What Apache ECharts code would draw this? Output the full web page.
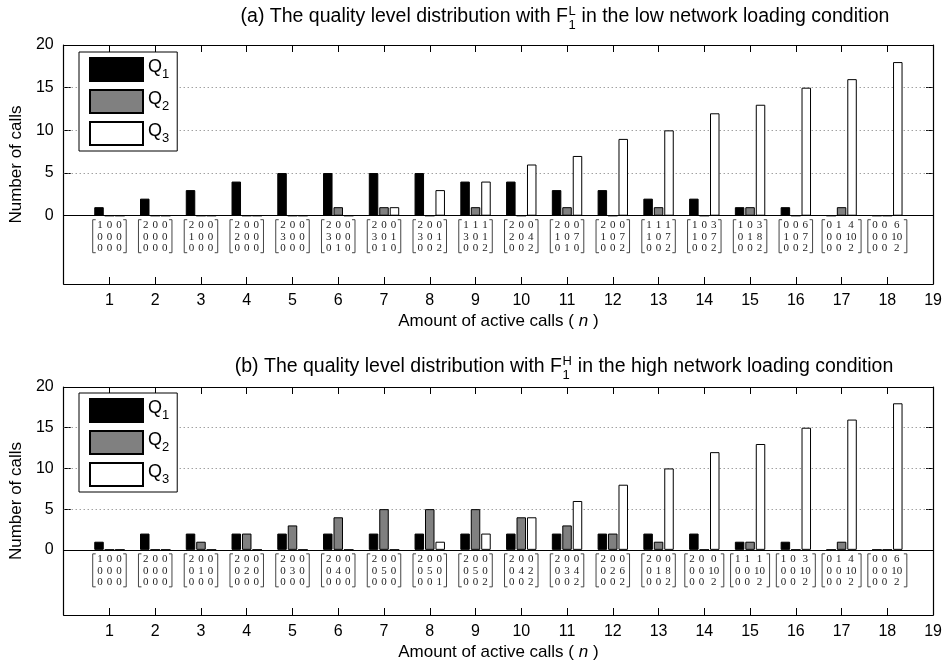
<!DOCTYPE html>
<html>
<head>
<meta charset="utf-8">
<script src="https://cdn.jsdelivr.net/npm/echarts@6/dist/echarts.min.js"></script>
<style>
  html, body { margin: 0; padding: 0; background: #fff; }
  #chart { width: 945px; height: 664px; }
</style>
</head>
<body>
<div id="chart"></div>
<script>
// amount of active calls
const nVals = [1, 2, 3, 4, 5, 6, 7, 8, 9, 10, 11, 12, 13, 14, 15, 16, 17, 18];

// (a) low network loading
const q1A = [1, 2, 3, 4, 5, 5, 5, 5, 4, 4, 3, 3, 2, 2, 1, 1, 0, 0];
const q2A = [0, 0, 0, 0, 0, 1, 1, 0, 1, 0, 1, 0, 1, 0, 1, 0, 1, 0];
const q3A = [0, 0, 0, 0, 0, 0, 1, 3, 4, 6, 7, 9, 10, 12, 13, 15, 16, 18];

// (b) high network loading
const q1B = [1, 2, 2, 2, 2, 2, 2, 2, 2, 2, 2, 2, 2, 2, 1, 1, 0, 0];
const q2B = [0, 0, 1, 2, 3, 4, 5, 5, 5, 4, 3, 2, 1, 0, 1, 0, 1, 0];
const q3B = [0, 0, 0, 0, 0, 0, 0, 1, 2, 4, 6, 8, 10, 12, 13, 15, 16, 18];

// matrices written under each group
const matA = [
  [[1,0,0],[0,0,0],[0,0,0]],
  [[2,0,0],[0,0,0],[0,0,0]],
  [[2,0,0],[1,0,0],[0,0,0]],
  [[2,0,0],[2,0,0],[0,0,0]],
  [[2,0,0],[3,0,0],[0,0,0]],
  [[2,0,0],[3,0,0],[0,1,0]],
  [[2,0,0],[3,0,1],[0,1,0]],
  [[2,0,0],[3,0,1],[0,0,2]],
  [[1,1,1],[3,0,1],[0,0,2]],
  [[2,0,0],[2,0,4],[0,0,2]],
  [[2,0,0],[1,0,7],[0,1,0]],
  [[2,0,0],[1,0,7],[0,0,2]],
  [[1,1,1],[1,0,7],[0,0,2]],
  [[1,0,3],[1,0,7],[0,0,2]],
  [[1,0,3],[0,1,8],[0,0,2]],
  [[0,0,6],[1,0,7],[0,0,2]],
  [[0,1,4],[0,0,10],[0,0,2]],
  [[0,0,6],[0,0,10],[0,0,2]]
];
const matB = [
  [[1,0,0],[0,0,0],[0,0,0]],
  [[2,0,0],[0,0,0],[0,0,0]],
  [[2,0,0],[0,1,0],[0,0,0]],
  [[2,0,0],[0,2,0],[0,0,0]],
  [[2,0,0],[0,3,0],[0,0,0]],
  [[2,0,0],[0,4,0],[0,0,0]],
  [[2,0,0],[0,5,0],[0,0,0]],
  [[2,0,0],[0,5,0],[0,0,1]],
  [[2,0,0],[0,5,0],[0,0,2]],
  [[2,0,0],[0,4,2],[0,0,2]],
  [[2,0,0],[0,3,4],[0,0,2]],
  [[2,0,0],[0,2,6],[0,0,2]],
  [[2,0,0],[0,1,8],[0,0,2]],
  [[2,0,0],[0,0,10],[0,0,2]],
  [[1,1,1],[0,0,10],[0,0,2]],
  [[1,0,3],[0,0,10],[0,0,2]],
  [[0,1,4],[0,0,10],[0,0,2]],
  [[0,0,6],[0,0,10],[0,0,2]]
];

const yTicks = [0, 5, 10, 15, 20];
const gridTicks = [5, 10, 15];
const seriesNames = ['Q1', 'Q2', 'Q3'];
const barColors = ['#000000', '#808080', '#ffffff'];

const FONT = '"Liberation Sans", Arial, sans-serif';

var chart = echarts.init(document.getElementById('chart'));

// measure text for the titles
const ctx = document.createElement('canvas').getContext('2d');
function tw(s, font) { ctx.font = font; return ctx.measureText(s).width; }

function titleGroup(pre, sup, sub, post, cx, cy) {
  const big = '19.5px ' + FONT;
  const small = '13px ' + FONT;
  const w1 = tw(pre, big);
  const ws = Math.max(tw(sup, small), tw(sub, small)) + 1;
  const w2 = tw(post, big);
  const x0 = cx - (w1 + ws + w2) / 2;
  const st = (t, f) => ({ text: t, font: f, fill: '#000', textVerticalAlign: 'middle' });
  return {
    type: 'group',
    children: [
      { type: 'text', x: x0, y: cy, style: st(pre, big) },
      { type: 'text', x: x0 + w1 + 0.5, y: cy - 6, style: st(sup, small) },
      { type: 'text', x: x0 + w1 + 0.5, y: cy + 8, style: st(sub, small) },
      { type: 'text', x: x0 + w1 + ws, y: cy, style: st(post, big) }
    ]
  };
}

// matrix under each bar group
function matrixRenderer(mats) {
  return function (params, api) {
    const m = mats[params.dataIndex];
    const p = api.coord([api.value(0), 0]);
    const cx = p[0], y0 = p[1];
    const digitW = 5.5, gap = 4;
    const widths = [0, 1, 2].map(c => Math.max.apply(null, m.map(r => String(r[c]).length)) * digitW);
    const total = widths[0] + widths[1] + widths[2] + 2 * gap;
    let x = cx - total / 2;
    const centers = [];
    widths.forEach(w => { centers.push(x + w / 2); x += w + gap; });
    const children = [];
    m.forEach((row, ri) => {
      row.forEach((v, ci) => {
        children.push({
          type: 'text',
          style: {
            text: String(v), x: centers[ci], y: y0 + 9.5 + ri * 11.5,
            textAlign: 'center', textVerticalAlign: 'middle',
            font: '11px "Liberation Serif", serif', fill: '#222'
          }
        });
      });
    });
    const top = y0 + 4, bot = y0 + 37;
    const lx = cx - total / 2 - 4.5, rx = cx + total / 2 + 4.5;
    children.push({ type: 'polyline', shape: { points: [[lx + 3, top], [lx, top], [lx, bot], [lx + 3, bot]] },
      style: { stroke: '#444', lineWidth: 1, fill: null } });
    children.push({ type: 'polyline', shape: { points: [[rx - 3, top], [rx, top], [rx, bot], [rx - 3, bot]] },
      style: { stroke: '#444', lineWidth: 1, fill: null } });
    return { type: 'group', children: children };
  };
}

const grids = [
  { left: 61, right: 11, top: 45, height: 239 },
  { left: 61, right: 11, top: 387, height: 228 }
];

const xAxes = [], yAxes = [], series = [], legends = [];
const panels = [
  { q: [q1A, q2A, q3A], mats: matA },
  { q: [q1B, q2B, q3B], mats: matB }
];

panels.forEach((pn, g) => {
  // bottom x axis with labels
  xAxes.push({
    gridIndex: g, type: 'value', min: 0, max: 19, interval: 1, position: 'bottom',
    axisLine: { onZero: false, lineStyle: { color: '#000', width: 1.2 } },
    axisTick: { inside: true, length: 7, lineStyle: { color: '#000' } },
    axisLabel: { margin: 9, color: '#000', fontSize: 16, fontFamily: FONT,
      formatter: v => (v === 0 ? '' : v) },
    splitLine: { show: false },
    name: 'Amount of active calls ( {i|n} )', nameLocation: 'middle', nameGap: 29,
    nameTextStyle: { color: '#000', fontSize: 17, fontFamily: FONT,
      rich: { i: { fontStyle: 'italic', fontSize: 17, fontFamily: FONT, color: '#000' } } }
  });
  // top x axis (box)
  xAxes.push({
    gridIndex: g, type: 'value', min: 0, max: 19, interval: 1, position: 'top',
    axisLine: { onZero: false, lineStyle: { color: '#000', width: 1.2 } },
    axisTick: { inside: true, length: 7, lineStyle: { color: '#000' } },
    axisLabel: { show: false }, splitLine: { show: false }
  });
  yAxes.push({
    gridIndex: g, type: 'value', min: -8, max: 20, position: 'left',
    axisLine: { show: true, onZero: false, lineStyle: { color: '#000', width: 1.2 } },
    axisTick: { show: true, inside: true, length: 7, customValues: yTicks, lineStyle: { color: '#000' } },
    axisLabel: { customValues: yTicks, margin: 10, color: '#000', fontSize: 16, fontFamily: FONT },
    splitLine: { show: false },
    name: 'Number of calls', nameLocation: 'middle', nameGap: 34,
    nameTextStyle: { color: '#000', fontSize: 17, fontFamily: FONT }
  });
  yAxes.push({
    gridIndex: g, type: 'value', min: -8, max: 20, position: 'right',
    axisLine: { show: true, onZero: false, lineStyle: { color: '#000', width: 1.2 } },
    axisTick: { show: true, inside: true, length: 7, customValues: yTicks, lineStyle: { color: '#000' } },
    axisLabel: { show: false }, splitLine: { show: false }
  });

  pn.q.forEach((vals, k) => {
    const s = {
      name: seriesNames[k], type: 'bar',
      xAxisIndex: g * 2, yAxisIndex: g * 2,
      barWidth: 9.5, barGap: '10%',
      itemStyle: { color: barColors[k], borderColor: '#000', borderWidth: 1 },
      data: nVals.map((n, i) => [n, vals[i]])
    };
    if (k === 0) {
      // dotted grid lines behind the bars
      s.markLine = {
        silent: true, symbol: 'none', z: 1, label: { show: false },
        lineStyle: { color: '#777', type: [1, 3], width: 1 },
        data: gridTicks.map(v => ({ yAxis: v }))
      };
    }
    if (k === 2) {
      // zero line
      s.markLine = {
        silent: true, symbol: 'none', z: 5, label: { show: false },
        lineStyle: { color: '#000', type: 'solid', width: 1.2 },
        data: [{ yAxis: 0 }]
      };
    }
    series.push(s);
  });

  series.push({
    type: 'custom', xAxisIndex: g * 2, yAxisIndex: g * 2, silent: true,
    renderItem: matrixRenderer(pn.mats),
    data: nVals.map(n => [n, 0])
  });

  legends.push({
    orient: 'vertical', left: 79, top: grids[g].top + (g === 0 ? 7 : 6),
    padding: [5, 8, 5, 10], itemWidth: 53, itemHeight: 23, itemGap: 7,
    icon: 'rect',
    borderColor: '#000', borderWidth: 1, backgroundColor: '#fff',
    selectedMode: false,
    data: seriesNames,
    formatter: name => '{q|Q}{s|' + name.slice(1) + '}',
    textStyle: {
      color: '#000',
      rich: {
        q: { fontSize: 18, fontFamily: FONT, lineHeight: 23, verticalAlign: 'top', color: '#000' },
        s: { fontSize: 13, fontFamily: FONT, lineHeight: 23, verticalAlign: 'bottom', color: '#000' }
      }
    }
  });
});

var option = {
  animation: false,
  backgroundColor: '#fff',
  grid: grids,
  xAxis: xAxes,
  yAxis: yAxes,
  legend: legends,
  series: series,
  graphic: [
    titleGroup('(a) The quality level distribution with F', 'L', '1',
      ' in the low network loading condition', 565, 17),
    titleGroup('(b) The quality level distribution with F', 'H', '1',
      ' in the high network loading condition', 564, 367)
  ]
};
chart.setOption(option);
</script>
</body>
</html>
